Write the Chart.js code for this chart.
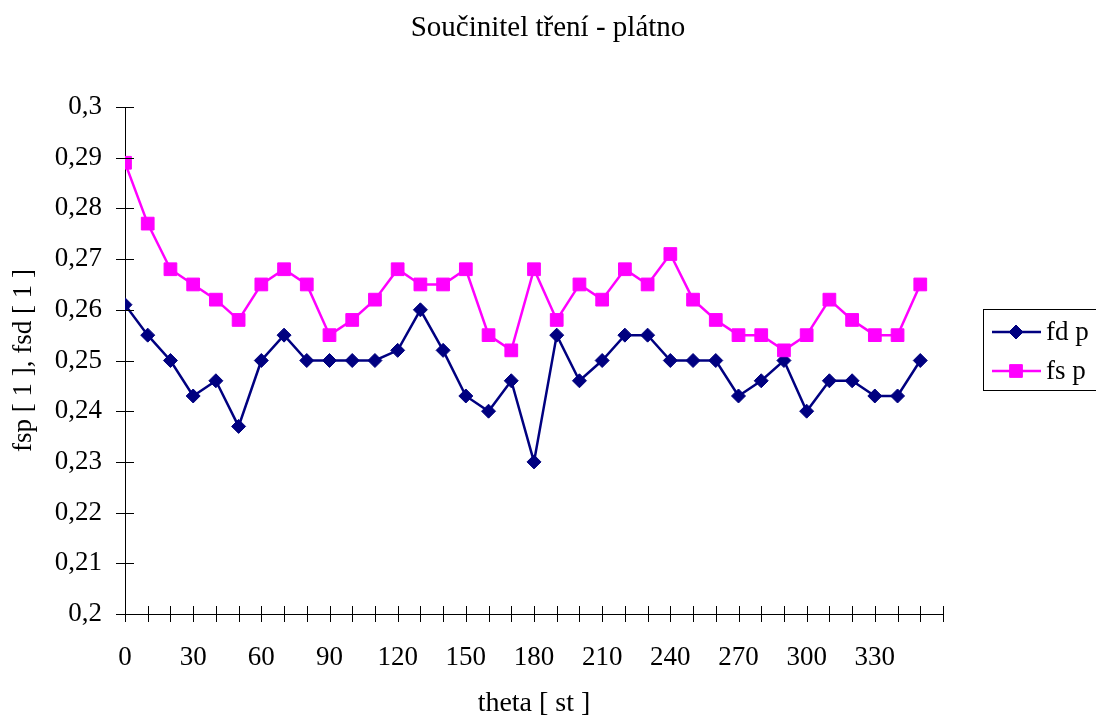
<!DOCTYPE html>
<html>
<head>
<meta charset="utf-8">
<title>Součinitel tření - plátno</title>
<script src="https://cdn.jsdelivr.net/npm/chart.js@4/dist/chart.umd.min.js"></script>
<style>
  html, body { margin: 0; padding: 0; background: #fff; }
  #wrap { position: relative; width: 1096px; height: 720px; }
</style>
</head>
<body>
<div id="wrap"><canvas id="frictionChart" width="1096" height="720"></canvas></div>
<script>
    // úhel theta [st]
    const theta = [0, 10, 20, 30, 40, 50, 60, 70, 80, 90, 100, 110, 120, 130, 140, 150, 160, 170,
                   180, 190, 200, 210, 220, 230, 240, 250, 260, 270, 280, 290, 300, 310, 320, 330, 340, 350];
    // dynamický součinitel
    const fdP = [0.261, 0.255, 0.250, 0.243, 0.246, 0.237, 0.250, 0.255, 0.250, 0.250, 0.250, 0.250,
                 0.252, 0.260, 0.252, 0.243, 0.240, 0.246, 0.230, 0.255, 0.246, 0.250, 0.255, 0.255,
                 0.250, 0.250, 0.250, 0.243, 0.246, 0.250, 0.240, 0.246, 0.246, 0.243, 0.243, 0.250];
    // statický součinitel
    const fsP = [0.289, 0.277, 0.268, 0.265, 0.262, 0.258, 0.265, 0.268, 0.265, 0.255, 0.258, 0.262,
                 0.268, 0.265, 0.265, 0.268, 0.255, 0.252, 0.268, 0.258, 0.265, 0.262, 0.268, 0.265,
                 0.271, 0.262, 0.258, 0.255, 0.255, 0.252, 0.255, 0.262, 0.258, 0.255, 0.255, 0.265];
    const seriesNames = ['fd p', 'fs p'];
    const chartTitle = 'Součinitel tření - plátno';
    const xLabelStep = 30;
    const xMax = 360;

    const FONT = 'Liberation Serif';
    const NAVY = '#000080';
    const MAGENTA = '#ff00ff';

    function fmtComma(v) {
        return String(Math.round(v * 100) / 100).replace('.', ',');
    }

    // nadpis přes celou šířku plátna
    const pageTitle = {
        id: 'pageTitle',
        afterDraw(chart) {
            const ctx = chart.ctx;
            ctx.save();
            ctx.font = '29px "' + FONT + '"';
            ctx.fillStyle = '#000';
            ctx.textAlign = 'center';
            ctx.textBaseline = 'middle';
            ctx.fillText(chartTitle, chart.width / 2, 28);
            ctx.restore();
        }
    };

    // osy v Excel stylu - značky přes čáru osy
    const crossTicks = {
        id: 'crossTicks',
        afterDatasetsDraw(chart) {
            const { ctx, chartArea, scales } = chart;
            ctx.save();
            ctx.strokeStyle = '#000';
            ctx.lineWidth = 1;
            ctx.beginPath();
            scales.y.ticks.forEach(t => {
                const py = Math.round(scales.y.getPixelForValue(t.value)) + 0.5;
                ctx.moveTo(chartArea.left - 9, py);
                ctx.lineTo(chartArea.left + 9, py);
            });
            scales.x.ticks.forEach(t => {
                const px = Math.round(scales.x.getPixelForValue(t.value)) + 0.5;
                ctx.moveTo(px, chartArea.bottom - 8);
                ctx.lineTo(px, chartArea.bottom + 8);
            });
            ctx.stroke();
            ctx.restore();
        }
    };

    // legenda vpravo, s rámečkem
    const boxLegend = {
        id: 'boxLegend',
        afterDraw(chart) {
            const ctx = chart.ctx;
            const x0 = 983.5, y0 = 309.5;
            ctx.save();
            ctx.strokeStyle = '#000';
            ctx.lineWidth = 1;
            ctx.strokeRect(x0, y0, 130, 81);
            ctx.font = '27px "' + FONT + '"';
            ctx.textBaseline = 'middle';
            ctx.fillStyle = '#000';
            chart.data.datasets.forEach((ds, i) => {
                const cy = 332 + i * 39;
                ctx.strokeStyle = ds.borderColor;
                ctx.lineWidth = ds.borderWidth;
                ctx.beginPath();
                ctx.moveTo(992, cy);
                ctx.lineTo(1041, cy);
                ctx.stroke();
                ctx.fillStyle = ds.pointBackgroundColor;
                ctx.strokeStyle = ds.pointBorderColor;
                ctx.lineWidth = 1;
                Chart.helpers.drawPoint(ctx, { pointStyle: ds.pointStyle, radius: ds.pointRadius, borderWidth: 1 }, 1016, cy);
                ctx.fillStyle = '#000';
                ctx.fillText(ds.label, 1046, cy + 1);
            });
            ctx.restore();
        }
    };

    const ctx = document.getElementById('frictionChart').getContext('2d');
    new Chart(ctx, {
        type: 'line',
        data: {
            datasets: [{
                label: seriesNames[0],
                data: theta.map((t, i) => ({ x: t, y: fdP[i] })),
                borderColor: NAVY,
                borderWidth: 2.5,
                pointStyle: 'rectRot',
                pointRadius: 7,
                pointBackgroundColor: NAVY,
                pointBorderColor: NAVY,
                pointBorderWidth: 1,
                tension: 0,
                order: 1
            }, {
                label: seriesNames[1],
                data: theta.map((t, i) => ({ x: t, y: fsP[i] })),
                borderColor: MAGENTA,
                borderWidth: 2.5,
                pointStyle: 'rect',
                pointRadius: 9,
                pointBackgroundColor: MAGENTA,
                pointBorderColor: MAGENTA,
                pointBorderWidth: 1,
                tension: 0,
                order: 0
            }]
        },
        options: {
            responsive: false,
            animation: false,
            layout: { padding: { left: 0, right: 153, top: 107, bottom: 0 } },
            plugins: {
                legend: { display: false },
                tooltip: { enabled: false },
                title: { display: false }
            },
            scales: {
                x: {
                    type: 'linear',
                    min: 0, max: xMax,
                    grid: { drawOnChartArea: false, drawTicks: false },
                    border: { color: '#000', width: 1 },
                    afterFit: s => { s.height = 106; },
                    afterBuildTicks: s => {
                        s.ticks = [];
                        for (let v = 0; v <= xMax; v += 10) s.ticks.push({ value: v });
                    },
                    ticks: {
                        autoSkip: false,
                        maxRotation: 0,
                        padding: 28,
                        color: '#000',
                        font: { family: FONT, size: 27 },
                        callback: v => (v % xLabelStep === 0 && v < xMax) ? String(v) : ''
                    },
                    title: {
                        display: true,
                        text: 'theta [ st ]',
                        color: '#000',
                        font: { family: FONT, size: 28, lineHeight: 1.2 },
                        padding: { top: 0, bottom: 0 }
                    }
                },
                y: {
                    min: 0.2, max: 0.3,
                    grid: { drawOnChartArea: false, drawTicks: false },
                    border: { color: '#000', width: 1 },
                    afterFit: s => { s.width = 125; },
                    ticks: {
                        stepSize: 0.01,
                        padding: 23,
                        color: '#000',
                        font: { family: FONT, size: 27 },
                        callback: v => fmtComma(v)
                    },
                    title: {
                        display: true,
                        text: 'fsp [ 1 ], fsd [ 1 ]',
                        color: '#000',
                        font: { family: FONT, size: 27, lineHeight: 1.2 },
                        padding: { top: 8, bottom: 0 }
                    }
                }
            }
        },
        plugins: [crossTicks, boxLegend, pageTitle]
    });
</script>
</body>
</html>
